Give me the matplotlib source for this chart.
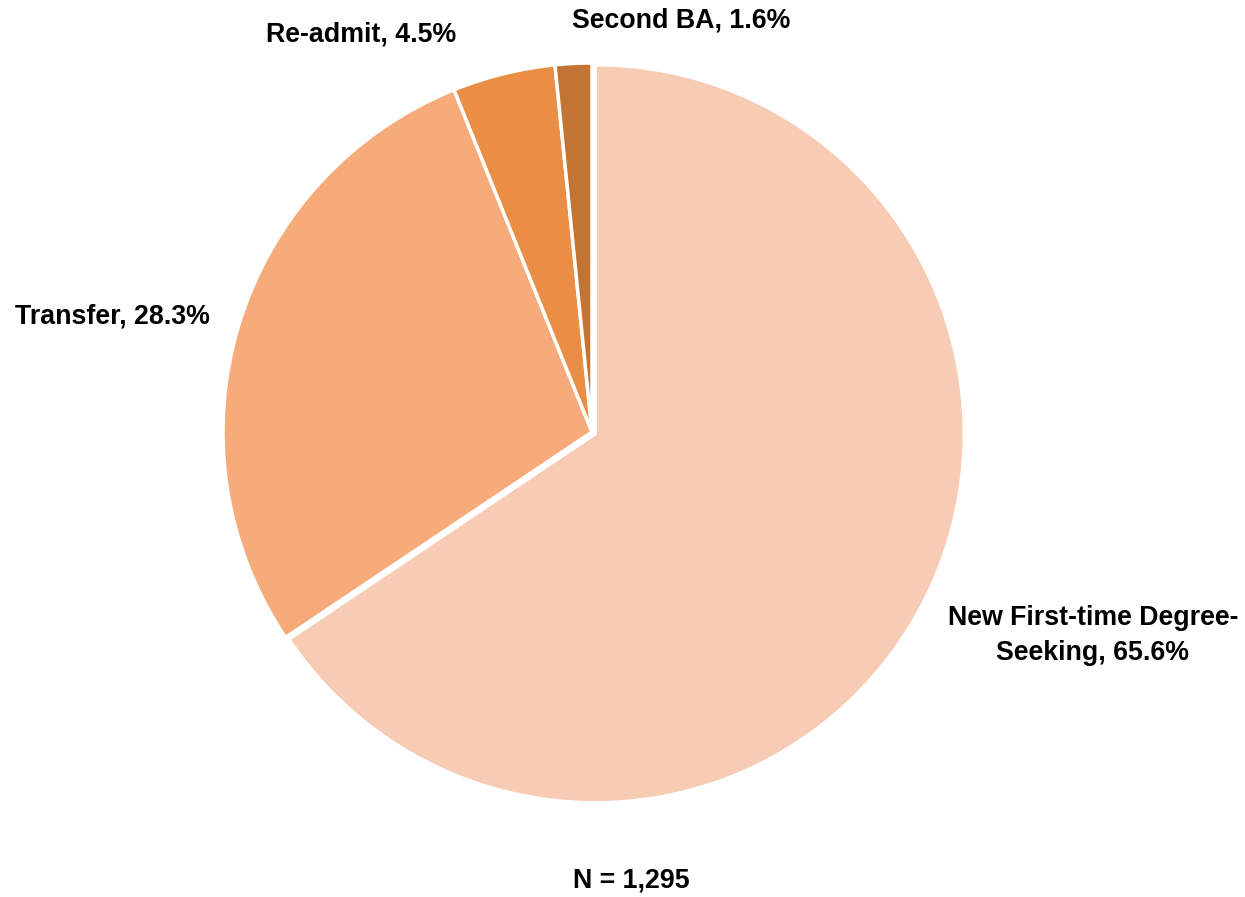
import matplotlib
matplotlib.use("Agg")
import matplotlib.pyplot as plt

categories = ["New First-time Degree-\nSeeking", "Transfer", "Re-admit", "Second BA"]
values = [65.6, 28.3, 4.5, 1.6]
colors = ["#F8CBB4", "#F7AB7B", "#E98E44", "#C17434"]
total_n = "N = 1,295"

plt.rcParams['font.family'] = ['Liberation Sans', 'DejaVu Sans']

W, H = 1245, 897
fig = plt.figure(figsize=(W / 100, H / 100), dpi=100)
cx, cy, r = 592, 432, 369
ax = fig.add_axes([(cx - r) / W, (H - cy - r) / H, 2 * r / W, 2 * r / H])
wedges, _ = ax.pie(values, colors=colors, startangle=90, counterclock=False,
                   explode=[0.01, 0, 0, 0],
                   wedgeprops=dict(edgecolor="white", linewidth=2.5))
ax.set_xlim(-1, 1)
ax.set_ylim(-1, 1)
ax.axis("off")

label_pos = [(1093, 635), (112, 316), (361, 35), (681, 20)]
for (x, y), cat, v in zip(label_pos, categories, values):
    fig.text(x / W, 1 - y / H, f"{cat}, {v}%", ha="center", va="center",
             fontsize=19.3, fontweight="bold", linespacing=1.45)

fig.text(631 / W, 1 - 880 / H, total_n, ha="center", va="center",
         fontsize=19.3, fontweight="bold")

fig.savefig("out.png", dpi=100, facecolor="white")
